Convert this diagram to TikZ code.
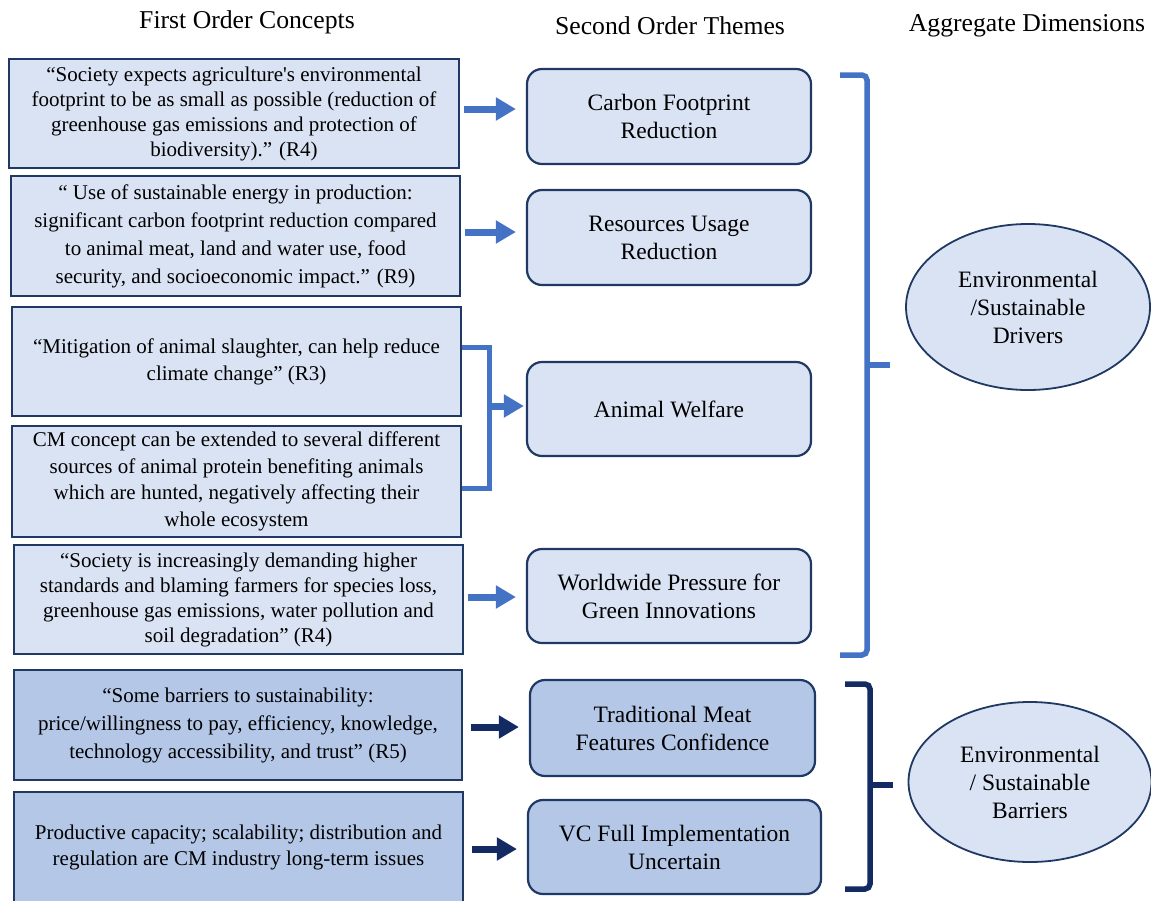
\documentclass[tikz,border=0pt]{standalone}
\usepackage{fontspec}
\setmainfont{Liberation Serif}
\usetikzlibrary{arrows.meta,shapes.geometric}
\definecolor{paleblue}{HTML}{DAE3F3}
\definecolor{midblue}{HTML}{B4C7E7}
\definecolor{navyline}{HTML}{1F3864}
\definecolor{accentblue}{HTML}{4472C4}
\definecolor{deepnavy}{HTML}{132A63}
\tikzset{
  quotebox/.style={draw=navyline, line width=2.5pt, fill=paleblue, inner sep=0pt,
    align=center, font=\fontsize{21}{26}\selectfont},
  themebox/.style={draw=navyline, line width=2.2pt, fill=paleblue, rounded corners=15pt,
    inner sep=0pt, align=center, font=\fontsize{23.5}{28}\selectfont},
  dimension/.style={ellipse, draw=navyline, line width=1.8pt, fill=paleblue, inner sep=0pt,
    align=center, font=\fontsize{23.5}{28}\selectfont},
  heading/.style={font=\fontsize{25.7}{28}\selectfont, inner sep=0pt},
  bluearrow/.style={draw=accentblue, line width=7pt,
    -{Triangle[length=20pt,width=22pt]}},
  navyarrow/.style={draw=deepnavy, line width=7pt,
    -{Triangle[length=20pt,width=22pt]}},
  bluebrace/.style={draw=accentblue, line width=5.5pt, rounded corners=5pt},
  navybrace/.style={draw=deepnavy, line width=5.5pt, rounded corners=5pt},
}
\begin{document}
\begin{tikzpicture}[x=1pt,y=-1pt]
\useasboundingbox (0,0) rectangle (1151,900);

% column headings
\node[heading] (h1) at (247,22) {First Order Concepts};
\node[heading] (h2) at (670,26) {Second Order Themes};
\node[heading] (h3) at (1027,26) {Aggregate Dimensions};

% first order concepts
\node[quotebox, minimum width=450pt, minimum height=109pt, font=\fontsize{21}{25}\selectfont] (c1) at (234,113.5)
  {“Society expects agriculture\textquotesingle s environmental\\footprint to be as small as possible (reduction of\\greenhouse gas emissions and protection of\\biodiversity).” (R4)};
\node[quotebox, minimum width=449pt, minimum height=120pt, font=\fontsize{21}{28}\selectfont] (c2) at (235.5,236)
  {“ Use of sustainable energy in production:\\significant carbon footprint reduction compared\\to animal meat, land and water use, food\\security, and socioeconomic impact.” (R9)};
\node[quotebox, minimum width=449pt, minimum height=109pt, font=\fontsize{21}{27}\selectfont] (c3) at (236.5,361.5)
  {“Mitigation of animal slaughter, can help reduce\\climate change” (R3)};
\node[quotebox, minimum width=449pt, minimum height=111pt, font=\fontsize{21}{26.5}\selectfont] (c4) at (236.5,481.5)
  {CM concept can be extended to several different\\sources of animal protein benefiting animals\\which are hunted, negatively affecting their\\whole ecosystem};
\node[quotebox, minimum width=449pt, minimum height=109pt, font=\fontsize{21}{25}\selectfont] (c5) at (238.5,599.5)
  {“Society is increasingly demanding higher\\standards and blaming farmers for species loss,\\greenhouse gas emissions, water pollution and\\soil degradation” (R4)};
\node[quotebox, fill=midblue, minimum width=448pt, minimum height=110pt, font=\fontsize{21}{28}\selectfont] (c6) at (238,725)
  {“Some barriers to sustainability:\\price/willingness to pay, efficiency, knowledge,\\technology accessibility, and trust” (R5)};
\node[quotebox, fill=midblue, minimum width=449pt, minimum height=111pt, font=\fontsize{21}{26}\selectfont] (c7) at (238.5,847.5)
  {Productive capacity; scalability; distribution and\\regulation are CM industry long-term issues};

% second order themes
\node[themebox, minimum width=284pt, minimum height=95pt] (t1) at (669,116.5) {Carbon Footprint\\Reduction};
\node[themebox, minimum width=284pt, minimum height=95pt] (t2) at (669,237.5) {Resources Usage\\Reduction};
\node[themebox, minimum width=284pt, minimum height=94pt] (t3) at (669,409) {Animal Welfare};
\node[themebox, minimum width=284pt, minimum height=94pt] (t4) at (669,596) {Worldwide Pressure for\\Green Innovations};
\node[themebox, fill=midblue, minimum width=285pt, minimum height=96pt] (t5) at (672.5,728) {Traditional Meat\\Features Confidence};
\node[themebox, fill=midblue, minimum width=293pt, minimum height=94pt] (t6) at (674.5,847) {VC Full Implementation\\Uncertain};

% aggregate dimensions
\node[dimension, minimum width=244pt, minimum height=166pt] (d1) at (1028,307) {Environmental\\/Sustainable\\Drivers};
\node[dimension, minimum width=243pt, minimum height=160pt] (d2) at (1030,782) {Environmental\\/ Sustainable\\Barriers};

% concept -> theme arrows
\draw[bluearrow, shorten <=4pt, shorten >=10pt] (c1.east |- 0,109) -- (t1.west |- 0,109);
\draw[bluearrow, shorten <=4pt, shorten >=10pt] (c2.east |- 0,232) -- (t2.west |- 0,232);
\draw[bluearrow, shorten <=4pt, shorten >=10pt] (c5.east |- 0,597) -- (t4.west |- 0,597);
\draw[navyarrow, shorten <=8pt, shorten >=10pt] (c6.east |- 0,727) -- (t5.west |- 0,727);
\draw[navyarrow, shorten <=8pt, shorten >=10pt] (c7.east |- 0,849) -- (t6.west |- 0,849);

% joint bracket for the two welfare concepts
\coordinate (jtop) at (489,347);
\coordinate (jbot) at (489,488);
\coordinate (jmid) at (489,406);
\draw[draw=accentblue, line width=5pt] (c3.east |- jtop) -- (jtop) -- (jbot) -- (c4.east |- jbot);
\draw[bluearrow, shorten >=2pt] (jmid) -- (t3.west |- jmid);

% grouping braces
\coordinate (b1top) at (840,75);
\coordinate (b1bot) at (840,655);
\coordinate (b1tip) at (890,365);
\draw[bluebrace] (b1top) -- (867,75) -- (867,655) -- (b1bot);
\draw[draw=accentblue, line width=5.5pt] (865,365) -- (b1tip);

\coordinate (b2top) at (845,684);
\coordinate (b2bot) at (845,889);
\coordinate (b2tip) at (893,785);
\draw[navybrace] (b2top) -- (870,684) -- (870,889) -- (b2bot);
\draw[draw=deepnavy, line width=5.5pt] (868,785) -- (b2tip);
\end{tikzpicture}
\end{document}
